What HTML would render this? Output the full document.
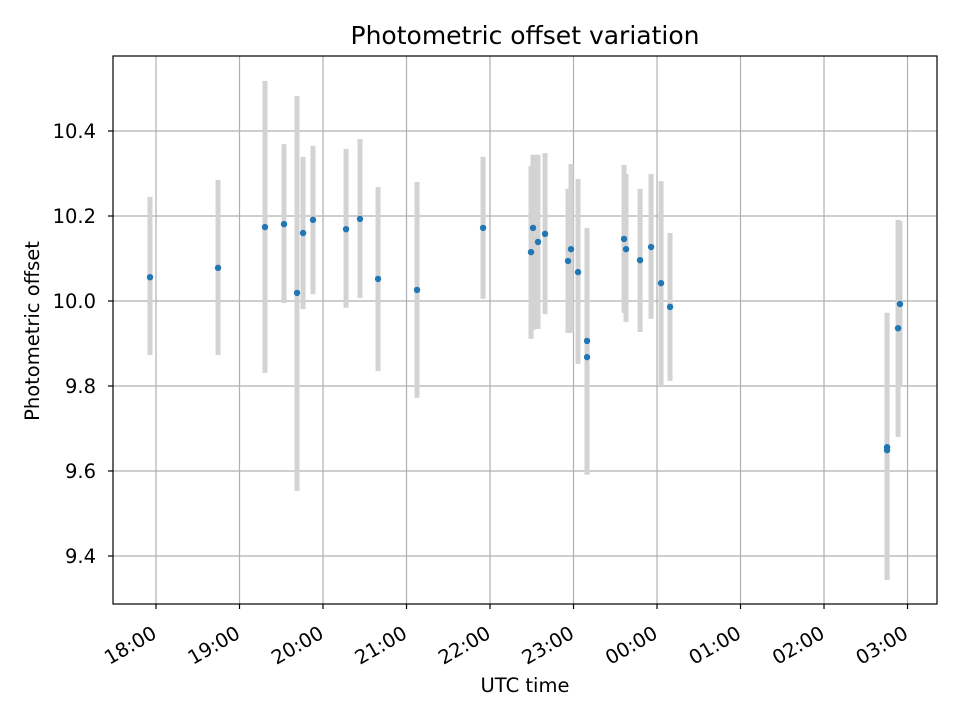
<!DOCTYPE html>
<html><head><meta charset="utf-8"><style>
body{margin:0;background:#fff;}
svg text{font-family:"DejaVu Sans","Liberation Sans",sans-serif;fill:#000;}
</style></head><body>
<svg id="chart" width="960" height="720" viewBox="0 0 960 720" xmlns="http://www.w3.org/2000/svg">
<rect width="960" height="720" fill="#fff"/>
<text x="525" y="44" font-size="25" text-anchor="middle">Photometric offset variation</text>
<text x="525" y="692" font-size="19.5" text-anchor="middle">UTC time</text>
<text x="39" y="331" font-size="19.5" text-anchor="middle" transform="rotate(-90 39 331)">Photometric offset</text>
<g id="grid"></g><g id="bars"></g><g id="pts"></g><g id="axes"></g>
</svg>
<script>
// time in hours since 00:00 of first day (values >24 are after midnight)
const times = [17.928,18.743,19.305,19.533,19.689,19.761,19.880,20.276,20.443,20.659,21.126,21.917,22.491,22.515,22.575,22.659,22.934,22.970,23.054,23.162,23.162,23.605,23.629,23.797,23.929,24.048,24.156,26.755,26.755,26.887,26.910];
const offsets = [10.056,10.078,10.174,10.181,10.019,10.160,10.191,10.169,10.193,10.052,10.026,10.172,10.115,10.172,10.139,10.158,10.094,10.122,10.068,9.906,9.868,10.146,10.122,10.096,10.127,10.042,9.986,9.656,9.649,9.936,9.993];
const errHigh = [10.245,10.285,10.518,10.369,10.482,10.339,10.365,10.358,10.381,10.268,10.280,10.339,10.318,10.344,10.344,10.348,10.264,10.322,10.287,10.172,10.144,10.320,10.299,10.264,10.299,10.282,10.160,9.972,9.972,10.191,10.188];
const errLow = [9.873,9.873,9.831,9.995,9.553,9.981,10.016,9.984,10.007,9.835,9.772,10.005,9.911,9.932,9.934,9.969,9.925,9.925,9.852,9.640,9.591,9.972,9.951,9.927,9.958,9.800,9.812,9.344,9.344,9.680,9.800];
const yTicks = [9.4,9.6,9.8,10.0,10.2,10.4];
const xTicks = [18,19,20,21,22,23,24,25,26,27];
const xTickLabels = ["18:00","19:00","20:00","21:00","22:00","23:00","00:00","01:00","02:00","03:00"];

const L=113,R=937,T=56,B=604;
const xMin=17.485,xMax=27.353,yMin=9.287,yMax=10.5765;
const X=v=>L+(v-xMin)/(xMax-xMin)*(R-L);
const Y=v=>B-(v-yMin)/(yMax-yMin)*(B-T);
const NS="http://www.w3.org/2000/svg";
function mk(parent,tag,attrs){const e=document.createElementNS(NS,tag);for(const k in attrs)e.setAttribute(k,attrs[k]);document.getElementById(parent).appendChild(e);return e;}

yTicks.forEach((t,i)=>{
  const y=Y(t);
  const g=mk('grid','line',{x1:L,x2:R,y1:y,y2:y,stroke:'#b0b0b0','stroke-width':1.2});
  
  
  const tk=mk('axes','line',{x1:L-5,x2:L,y1:y,y2:y,stroke:'#000','stroke-width':1.2});
  
  
  const tx=mk('axes','text',{x:L-17,y:y+7,'font-size':19.5,'text-anchor':'end'});
  tx.textContent=t.toFixed(1);
  
  
});
xTicks.forEach((t,i)=>{
  const x=X(t);
  const g=mk('grid','line',{x1:x,x2:x,y1:T,y2:B,stroke:'#b0b0b0','stroke-width':1.2});
  
  
  const tk=mk('axes','line',{x1:x,x2:x,y1:B,y2:B+5,stroke:'#000','stroke-width':1.2});
  
  
  const ax=x+2, ay=B+33;
  const tx=mk('axes','text',{x:ax,y:ay,'font-size':19.5,'text-anchor':'end',transform:`rotate(-30 ${ax} ${ay})`});
  tx.textContent=xTickLabels[i];
  
  
});
times.forEach((t,i)=>{
  const x=X(t);
  const b=mk('bars','line',{x1:x,x2:x,y1:Y(errHigh[i]),y2:Y(errLow[i]),stroke:'#d3d3d3','stroke-width':5});
  
  
  const p=mk('pts','circle',{cx:x,cy:Y(offsets[i]),r:3.2,fill:'#1f77b4'});
  
  
});
const fr=mk('axes','rect',{x:L,y:T,width:R-L,height:B-T,fill:'none',stroke:'#000','stroke-width':1.2});


</script>
</body></html>
